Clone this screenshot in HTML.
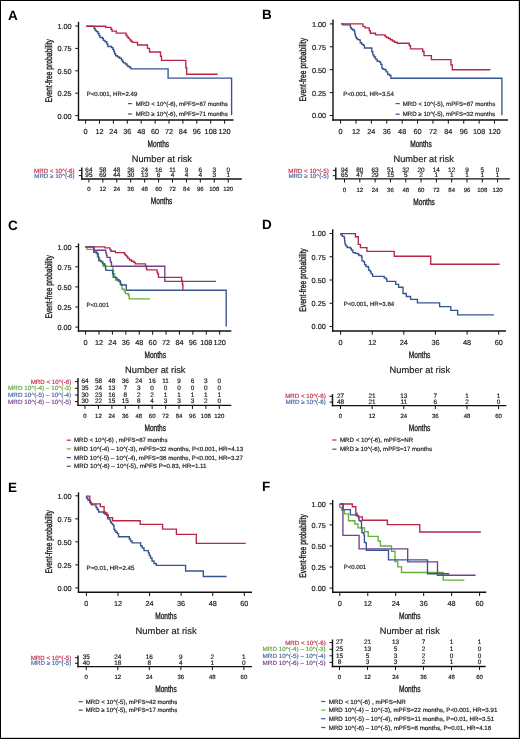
<!DOCTYPE html>
<html><head><meta charset="utf-8"><style>
html,body{margin:0;padding:0;background:#fff;}
body{width:520px;height:739px;overflow:hidden;}
svg{display:block;will-change:transform;}
svg text{font-family:"Liberation Sans", sans-serif;text-rendering:geometricPrecision;}
</style></head><body>
<svg width="520" height="739" viewBox="0 0 520 739">
<rect x="0" y="0" width="520" height="739" fill="#fff"/>
<text x="7.90" y="19.50" font-size="13.5" fill="#000" font-weight="bold">A</text>
<line x1="78.50" y1="21.80" x2="78.50" y2="120.70" stroke="#111" stroke-width="1.4"/>
<line x1="77.80" y1="120.00" x2="233.50" y2="120.00" stroke="#111" stroke-width="1.4"/>
<line x1="75.30" y1="115.60" x2="78.50" y2="115.60" stroke="#111" stroke-width="1.0"/>
<text x="71.60" y="118.50" font-size="7.3" fill="#1c1c1c" stroke="#1c1c1c" stroke-width="0.18" text-anchor="end">0.00</text>
<line x1="75.30" y1="93.20" x2="78.50" y2="93.20" stroke="#111" stroke-width="1.0"/>
<text x="71.60" y="96.10" font-size="7.3" fill="#1c1c1c" stroke="#1c1c1c" stroke-width="0.18" text-anchor="end">0.25</text>
<line x1="75.30" y1="70.80" x2="78.50" y2="70.80" stroke="#111" stroke-width="1.0"/>
<text x="71.60" y="73.70" font-size="7.3" fill="#1c1c1c" stroke="#1c1c1c" stroke-width="0.18" text-anchor="end">0.50</text>
<line x1="75.30" y1="48.40" x2="78.50" y2="48.40" stroke="#111" stroke-width="1.0"/>
<text x="71.60" y="51.30" font-size="7.3" fill="#1c1c1c" stroke="#1c1c1c" stroke-width="0.18" text-anchor="end">0.75</text>
<line x1="75.30" y1="26.00" x2="78.50" y2="26.00" stroke="#111" stroke-width="1.0"/>
<text x="71.60" y="28.90" font-size="7.3" fill="#1c1c1c" stroke="#1c1c1c" stroke-width="0.18" text-anchor="end">1.00</text>
<line x1="85.60" y1="120.00" x2="85.60" y2="123.70" stroke="#111" stroke-width="1.0"/>
<text x="85.60" y="133.90" font-size="7.3" fill="#1c1c1c" stroke="#1c1c1c" stroke-width="0.18" text-anchor="middle">0</text>
<line x1="99.50" y1="120.00" x2="99.50" y2="123.70" stroke="#111" stroke-width="1.0"/>
<text x="99.50" y="133.90" font-size="7.3" fill="#1c1c1c" stroke="#1c1c1c" stroke-width="0.18" text-anchor="middle">12</text>
<line x1="113.40" y1="120.00" x2="113.40" y2="123.70" stroke="#111" stroke-width="1.0"/>
<text x="113.40" y="133.90" font-size="7.3" fill="#1c1c1c" stroke="#1c1c1c" stroke-width="0.18" text-anchor="middle">24</text>
<line x1="127.30" y1="120.00" x2="127.30" y2="123.70" stroke="#111" stroke-width="1.0"/>
<text x="127.30" y="133.90" font-size="7.3" fill="#1c1c1c" stroke="#1c1c1c" stroke-width="0.18" text-anchor="middle">36</text>
<line x1="141.20" y1="120.00" x2="141.20" y2="123.70" stroke="#111" stroke-width="1.0"/>
<text x="141.20" y="133.90" font-size="7.3" fill="#1c1c1c" stroke="#1c1c1c" stroke-width="0.18" text-anchor="middle">48</text>
<line x1="155.10" y1="120.00" x2="155.10" y2="123.70" stroke="#111" stroke-width="1.0"/>
<text x="155.10" y="133.90" font-size="7.3" fill="#1c1c1c" stroke="#1c1c1c" stroke-width="0.18" text-anchor="middle">60</text>
<line x1="169.00" y1="120.00" x2="169.00" y2="123.70" stroke="#111" stroke-width="1.0"/>
<text x="169.00" y="133.90" font-size="7.3" fill="#1c1c1c" stroke="#1c1c1c" stroke-width="0.18" text-anchor="middle">72</text>
<line x1="182.90" y1="120.00" x2="182.90" y2="123.70" stroke="#111" stroke-width="1.0"/>
<text x="182.90" y="133.90" font-size="7.3" fill="#1c1c1c" stroke="#1c1c1c" stroke-width="0.18" text-anchor="middle">84</text>
<line x1="196.80" y1="120.00" x2="196.80" y2="123.70" stroke="#111" stroke-width="1.0"/>
<text x="196.80" y="133.90" font-size="7.3" fill="#1c1c1c" stroke="#1c1c1c" stroke-width="0.18" text-anchor="middle">96</text>
<line x1="210.70" y1="120.00" x2="210.70" y2="123.70" stroke="#111" stroke-width="1.0"/>
<text x="210.70" y="133.90" font-size="7.3" fill="#1c1c1c" stroke="#1c1c1c" stroke-width="0.18" text-anchor="middle">108</text>
<line x1="224.60" y1="120.00" x2="224.60" y2="123.70" stroke="#111" stroke-width="1.0"/>
<text x="224.60" y="133.90" font-size="7.3" fill="#1c1c1c" stroke="#1c1c1c" stroke-width="0.18" text-anchor="middle">120</text>
<text x="158.30" y="146.90" font-size="9.3" fill="#1c1c1c" stroke="#1c1c1c" stroke-width="0.35" text-anchor="middle" textLength="21.60" lengthAdjust="spacingAndGlyphs">Months</text>
<text x="0" y="0" font-size="9.6" fill="#1c1c1c" stroke="#1c1c1c" stroke-width="0.35" text-anchor="middle" textLength="63.4" lengthAdjust="spacingAndGlyphs" transform="translate(51.60,70.80) rotate(-90)">Event-free probability</text>
<path d="M86.30,26.20H94.10V28.50H95.20V30.50H96.50V31.60H98.00V33.50H99.00V35.50H100.00V37.50H102.50V38.50H103.30V40.30H105.00V41.70H106.80V44.00H107.80V46.50H111.40V47.50H112.90V49.50H113.80V51.50H114.60V53.70H115.60V55.70H117.50V57.00H119.60V58.20H121.50V60.00H122.50V61.50H123.50V62.90H125.40V64.00H127.00V65.50H128.00V66.50H129.70V67.50H130.90V68.80H168.10V78.10H231.60V115.30H231.60" fill="none" stroke="#36558f" stroke-width="1.35" stroke-linejoin="miter" stroke-linecap="butt"/>
<path d="M86.30,26.20H105.70V27.30H111.00V29.20H112.00V31.10H116.30V33.10H125.90V35.00H127.00V36.90H128.30V38.30H129.70V39.80H131.00V41.20H132.40V42.40H137.50V45.00H147.50V48.30H149.50V52.00H160.50V56.20H161.50V60.30H185.80V67.70H186.70V74.20H217.70" fill="none" stroke="#b82647" stroke-width="1.35" stroke-linejoin="miter" stroke-linecap="butt"/>
<text x="86.70" y="96.30" font-size="6.1" fill="#1c1c1c" stroke="#1c1c1c" stroke-width="0.18" textLength="50.60" lengthAdjust="spacingAndGlyphs">P&lt;0.001, HR=2.49</text>
<line x1="127.90" y1="103.60" x2="132.10" y2="103.60" stroke="#b82647" stroke-width="1.2"/>
<text x="135.80" y="105.70" font-size="6.1" fill="#1c1c1c" stroke="#1c1c1c" stroke-width="0.18" textLength="92.00" lengthAdjust="spacingAndGlyphs">MRD &lt; 10^(-6), mPFS=87 months</text>
<line x1="127.90" y1="114.00" x2="132.10" y2="114.00" stroke="#36558f" stroke-width="1.2"/>
<text x="135.80" y="116.10" font-size="6.1" fill="#1c1c1c" stroke="#1c1c1c" stroke-width="0.18" textLength="92.00" lengthAdjust="spacingAndGlyphs">MRD ≥ 10^(-6), mPFS=71 months</text>
<text x="131.70" y="162.00" font-size="9.2" fill="#1c1c1c" stroke="#1c1c1c" stroke-width="0.18" textLength="60.30" lengthAdjust="spacingAndGlyphs">Number at risk</text>
<line x1="81.80" y1="167.50" x2="81.80" y2="179.70" stroke="#111" stroke-width="1.4"/>
<line x1="81.10" y1="179.00" x2="241.80" y2="179.00" stroke="#111" stroke-width="1.4"/>
<line x1="78.80" y1="170.40" x2="81.80" y2="170.40" stroke="#111" stroke-width="1.0"/>
<text x="74.60" y="172.50" font-size="6.2" fill="#c0304c" stroke="#c0304c" stroke-width="0.18" text-anchor="end">MRD &lt; 10^(-6)</text>
<text x="88.90" y="172.15" font-size="6.4" fill="#1c1c1c" stroke="#1c1c1c" stroke-width="0.18" text-anchor="middle">64</text>
<text x="102.83" y="172.15" font-size="6.4" fill="#1c1c1c" stroke="#1c1c1c" stroke-width="0.18" text-anchor="middle">58</text>
<text x="116.76" y="172.15" font-size="6.4" fill="#1c1c1c" stroke="#1c1c1c" stroke-width="0.18" text-anchor="middle">48</text>
<text x="130.69" y="172.15" font-size="6.4" fill="#1c1c1c" stroke="#1c1c1c" stroke-width="0.18" text-anchor="middle">36</text>
<text x="144.62" y="172.15" font-size="6.4" fill="#1c1c1c" stroke="#1c1c1c" stroke-width="0.18" text-anchor="middle">24</text>
<text x="158.55" y="172.15" font-size="6.4" fill="#1c1c1c" stroke="#1c1c1c" stroke-width="0.18" text-anchor="middle">16</text>
<text x="172.48" y="172.15" font-size="6.4" fill="#1c1c1c" stroke="#1c1c1c" stroke-width="0.18" text-anchor="middle">11</text>
<text x="186.41" y="172.15" font-size="6.4" fill="#1c1c1c" stroke="#1c1c1c" stroke-width="0.18" text-anchor="middle">9</text>
<text x="200.34" y="172.15" font-size="6.4" fill="#1c1c1c" stroke="#1c1c1c" stroke-width="0.18" text-anchor="middle">6</text>
<text x="214.27" y="172.15" font-size="6.4" fill="#1c1c1c" stroke="#1c1c1c" stroke-width="0.18" text-anchor="middle">3</text>
<text x="228.20" y="172.15" font-size="6.4" fill="#1c1c1c" stroke="#1c1c1c" stroke-width="0.18" text-anchor="middle">0</text>
<line x1="78.80" y1="175.60" x2="81.80" y2="175.60" stroke="#111" stroke-width="1.0"/>
<text x="74.60" y="177.70" font-size="6.2" fill="#4a66a2" stroke="#4a66a2" stroke-width="0.18" text-anchor="end">MRD ≥ 10^(-6)</text>
<text x="88.90" y="177.35" font-size="6.4" fill="#1c1c1c" stroke="#1c1c1c" stroke-width="0.18" text-anchor="middle">95</text>
<text x="102.83" y="177.35" font-size="6.4" fill="#1c1c1c" stroke="#1c1c1c" stroke-width="0.18" text-anchor="middle">69</text>
<text x="116.76" y="177.35" font-size="6.4" fill="#1c1c1c" stroke="#1c1c1c" stroke-width="0.18" text-anchor="middle">44</text>
<text x="130.69" y="177.35" font-size="6.4" fill="#1c1c1c" stroke="#1c1c1c" stroke-width="0.18" text-anchor="middle">30</text>
<text x="144.62" y="177.35" font-size="6.4" fill="#1c1c1c" stroke="#1c1c1c" stroke-width="0.18" text-anchor="middle">13</text>
<text x="158.55" y="177.35" font-size="6.4" fill="#1c1c1c" stroke="#1c1c1c" stroke-width="0.18" text-anchor="middle">6</text>
<text x="172.48" y="177.35" font-size="6.4" fill="#1c1c1c" stroke="#1c1c1c" stroke-width="0.18" text-anchor="middle">4</text>
<text x="186.41" y="177.35" font-size="6.4" fill="#1c1c1c" stroke="#1c1c1c" stroke-width="0.18" text-anchor="middle">4</text>
<text x="200.34" y="177.35" font-size="6.4" fill="#1c1c1c" stroke="#1c1c1c" stroke-width="0.18" text-anchor="middle">4</text>
<text x="214.27" y="177.35" font-size="6.4" fill="#1c1c1c" stroke="#1c1c1c" stroke-width="0.18" text-anchor="middle">3</text>
<text x="228.20" y="177.35" font-size="6.4" fill="#1c1c1c" stroke="#1c1c1c" stroke-width="0.18" text-anchor="middle">1</text>
<line x1="88.90" y1="179.00" x2="88.90" y2="182.50" stroke="#111" stroke-width="1.0"/>
<text x="88.90" y="191.40" font-size="6.0" fill="#1c1c1c" stroke="#1c1c1c" stroke-width="0.18" text-anchor="middle">0</text>
<line x1="102.83" y1="179.00" x2="102.83" y2="182.50" stroke="#111" stroke-width="1.0"/>
<text x="102.83" y="191.40" font-size="6.0" fill="#1c1c1c" stroke="#1c1c1c" stroke-width="0.18" text-anchor="middle">12</text>
<line x1="116.76" y1="179.00" x2="116.76" y2="182.50" stroke="#111" stroke-width="1.0"/>
<text x="116.76" y="191.40" font-size="6.0" fill="#1c1c1c" stroke="#1c1c1c" stroke-width="0.18" text-anchor="middle">24</text>
<line x1="130.69" y1="179.00" x2="130.69" y2="182.50" stroke="#111" stroke-width="1.0"/>
<text x="130.69" y="191.40" font-size="6.0" fill="#1c1c1c" stroke="#1c1c1c" stroke-width="0.18" text-anchor="middle">36</text>
<line x1="144.62" y1="179.00" x2="144.62" y2="182.50" stroke="#111" stroke-width="1.0"/>
<text x="144.62" y="191.40" font-size="6.0" fill="#1c1c1c" stroke="#1c1c1c" stroke-width="0.18" text-anchor="middle">48</text>
<line x1="158.55" y1="179.00" x2="158.55" y2="182.50" stroke="#111" stroke-width="1.0"/>
<text x="158.55" y="191.40" font-size="6.0" fill="#1c1c1c" stroke="#1c1c1c" stroke-width="0.18" text-anchor="middle">60</text>
<line x1="172.48" y1="179.00" x2="172.48" y2="182.50" stroke="#111" stroke-width="1.0"/>
<text x="172.48" y="191.40" font-size="6.0" fill="#1c1c1c" stroke="#1c1c1c" stroke-width="0.18" text-anchor="middle">72</text>
<line x1="186.41" y1="179.00" x2="186.41" y2="182.50" stroke="#111" stroke-width="1.0"/>
<text x="186.41" y="191.40" font-size="6.0" fill="#1c1c1c" stroke="#1c1c1c" stroke-width="0.18" text-anchor="middle">84</text>
<line x1="200.34" y1="179.00" x2="200.34" y2="182.50" stroke="#111" stroke-width="1.0"/>
<text x="200.34" y="191.40" font-size="6.0" fill="#1c1c1c" stroke="#1c1c1c" stroke-width="0.18" text-anchor="middle">96</text>
<line x1="214.27" y1="179.00" x2="214.27" y2="182.50" stroke="#111" stroke-width="1.0"/>
<text x="214.27" y="191.40" font-size="6.0" fill="#1c1c1c" stroke="#1c1c1c" stroke-width="0.18" text-anchor="middle">108</text>
<line x1="228.20" y1="179.00" x2="228.20" y2="182.50" stroke="#111" stroke-width="1.0"/>
<text x="228.20" y="191.40" font-size="6.0" fill="#1c1c1c" stroke="#1c1c1c" stroke-width="0.18" text-anchor="middle">120</text>
<text x="161.60" y="204.40" font-size="9.3" fill="#1c1c1c" stroke="#1c1c1c" stroke-width="0.35" text-anchor="middle" textLength="21.60" lengthAdjust="spacingAndGlyphs">Months</text>
<text x="262.00" y="19.30" font-size="13.5" fill="#000" font-weight="bold">B</text>
<line x1="333.00" y1="19.60" x2="333.00" y2="120.70" stroke="#111" stroke-width="1.4"/>
<line x1="332.30" y1="120.00" x2="508.00" y2="120.00" stroke="#111" stroke-width="1.4"/>
<line x1="329.80" y1="115.50" x2="333.00" y2="115.50" stroke="#111" stroke-width="1.0"/>
<text x="326.10" y="118.40" font-size="7.3" fill="#1c1c1c" stroke="#1c1c1c" stroke-width="0.18" text-anchor="end">0.00</text>
<line x1="329.80" y1="92.60" x2="333.00" y2="92.60" stroke="#111" stroke-width="1.0"/>
<text x="326.10" y="95.50" font-size="7.3" fill="#1c1c1c" stroke="#1c1c1c" stroke-width="0.18" text-anchor="end">0.25</text>
<line x1="329.80" y1="69.70" x2="333.00" y2="69.70" stroke="#111" stroke-width="1.0"/>
<text x="326.10" y="72.60" font-size="7.3" fill="#1c1c1c" stroke="#1c1c1c" stroke-width="0.18" text-anchor="end">0.50</text>
<line x1="329.80" y1="46.80" x2="333.00" y2="46.80" stroke="#111" stroke-width="1.0"/>
<text x="326.10" y="49.70" font-size="7.3" fill="#1c1c1c" stroke="#1c1c1c" stroke-width="0.18" text-anchor="end">0.75</text>
<line x1="329.80" y1="23.90" x2="333.00" y2="23.90" stroke="#111" stroke-width="1.0"/>
<text x="326.10" y="26.80" font-size="7.3" fill="#1c1c1c" stroke="#1c1c1c" stroke-width="0.18" text-anchor="end">1.00</text>
<line x1="340.60" y1="120.00" x2="340.60" y2="123.70" stroke="#111" stroke-width="1.0"/>
<text x="340.60" y="134.00" font-size="7.3" fill="#1c1c1c" stroke="#1c1c1c" stroke-width="0.18" text-anchor="middle">0</text>
<line x1="355.99" y1="120.00" x2="355.99" y2="123.70" stroke="#111" stroke-width="1.0"/>
<text x="355.99" y="134.00" font-size="7.3" fill="#1c1c1c" stroke="#1c1c1c" stroke-width="0.18" text-anchor="middle">12</text>
<line x1="371.38" y1="120.00" x2="371.38" y2="123.70" stroke="#111" stroke-width="1.0"/>
<text x="371.38" y="134.00" font-size="7.3" fill="#1c1c1c" stroke="#1c1c1c" stroke-width="0.18" text-anchor="middle">24</text>
<line x1="386.77" y1="120.00" x2="386.77" y2="123.70" stroke="#111" stroke-width="1.0"/>
<text x="386.77" y="134.00" font-size="7.3" fill="#1c1c1c" stroke="#1c1c1c" stroke-width="0.18" text-anchor="middle">36</text>
<line x1="402.16" y1="120.00" x2="402.16" y2="123.70" stroke="#111" stroke-width="1.0"/>
<text x="402.16" y="134.00" font-size="7.3" fill="#1c1c1c" stroke="#1c1c1c" stroke-width="0.18" text-anchor="middle">48</text>
<line x1="417.55" y1="120.00" x2="417.55" y2="123.70" stroke="#111" stroke-width="1.0"/>
<text x="417.55" y="134.00" font-size="7.3" fill="#1c1c1c" stroke="#1c1c1c" stroke-width="0.18" text-anchor="middle">60</text>
<line x1="432.94" y1="120.00" x2="432.94" y2="123.70" stroke="#111" stroke-width="1.0"/>
<text x="432.94" y="134.00" font-size="7.3" fill="#1c1c1c" stroke="#1c1c1c" stroke-width="0.18" text-anchor="middle">72</text>
<line x1="448.33" y1="120.00" x2="448.33" y2="123.70" stroke="#111" stroke-width="1.0"/>
<text x="448.33" y="134.00" font-size="7.3" fill="#1c1c1c" stroke="#1c1c1c" stroke-width="0.18" text-anchor="middle">84</text>
<line x1="463.72" y1="120.00" x2="463.72" y2="123.70" stroke="#111" stroke-width="1.0"/>
<text x="463.72" y="134.00" font-size="7.3" fill="#1c1c1c" stroke="#1c1c1c" stroke-width="0.18" text-anchor="middle">96</text>
<line x1="479.11" y1="120.00" x2="479.11" y2="123.70" stroke="#111" stroke-width="1.0"/>
<text x="479.11" y="134.00" font-size="7.3" fill="#1c1c1c" stroke="#1c1c1c" stroke-width="0.18" text-anchor="middle">108</text>
<line x1="494.50" y1="120.00" x2="494.50" y2="123.70" stroke="#111" stroke-width="1.0"/>
<text x="494.50" y="134.00" font-size="7.3" fill="#1c1c1c" stroke="#1c1c1c" stroke-width="0.18" text-anchor="middle">120</text>
<text x="421.00" y="146.60" font-size="9.3" fill="#1c1c1c" stroke="#1c1c1c" stroke-width="0.35" text-anchor="middle" textLength="21.60" lengthAdjust="spacingAndGlyphs">Months</text>
<text x="0" y="0" font-size="9.6" fill="#1c1c1c" stroke="#1c1c1c" stroke-width="0.35" text-anchor="middle" textLength="63.4" lengthAdjust="spacingAndGlyphs" transform="translate(306.10,69.70) rotate(-90)">Event-free probability</text>
<path d="M341.20,23.90H342.80V24.80H350.40V27.40H351.20V29.00H352.80V30.00H354.40V31.60H354.90V34.30H355.50V36.90H356.50V38.50H357.60V39.60H359.70V40.10H360.20V42.70H361.80V44.30H363.40V45.40H364.40V48.00H371.80V51.70H372.90V54.90H374.00V57.00H375.50V59.10H377.10V61.20H379.80V62.30H380.80V64.40H381.90V68.10H383.00V69.20H385.10V69.70H386.10V71.80H387.70V74.50H389.80V75.50H390.90V78.20H501.90V115.20H501.90" fill="none" stroke="#36558f" stroke-width="1.35" stroke-linejoin="miter" stroke-linecap="butt"/>
<path d="M341.20,23.90H362.90V26.30H365.00V27.90H369.20V30.60H370.30V33.20H375.50V34.80H385.10V36.40H386.30V37.50H388.40V38.50H390.40V39.70H392.40V41.00H394.50V42.20H397.10V43.20H409.20V45.50H410.50V48.80H422.70V51.50H424.00V55.60H431.40V59.60H451.00V65.00H452.30V69.70H490.40" fill="none" stroke="#b82647" stroke-width="1.35" stroke-linejoin="miter" stroke-linecap="butt"/>
<text x="343.20" y="96.30" font-size="6.1" fill="#1c1c1c" stroke="#1c1c1c" stroke-width="0.18" textLength="50.60" lengthAdjust="spacingAndGlyphs">P&lt;0.001, HR=3.54</text>
<line x1="395.50" y1="103.60" x2="399.70" y2="103.60" stroke="#b82647" stroke-width="1.2"/>
<text x="402.70" y="105.70" font-size="6.1" fill="#1c1c1c" stroke="#1c1c1c" stroke-width="0.18" textLength="92.50" lengthAdjust="spacingAndGlyphs">MRD &lt; 10^(-5), mPFS=87 months</text>
<line x1="395.50" y1="114.20" x2="399.70" y2="114.20" stroke="#36558f" stroke-width="1.2"/>
<text x="402.70" y="116.30" font-size="6.1" fill="#1c1c1c" stroke="#1c1c1c" stroke-width="0.18" textLength="92.50" lengthAdjust="spacingAndGlyphs">MRD ≥ 10^(-5), mPFS=32 months</text>
<text x="393.50" y="162.30" font-size="9.2" fill="#1c1c1c" stroke="#1c1c1c" stroke-width="0.18" textLength="60.30" lengthAdjust="spacingAndGlyphs">Number at risk</text>
<line x1="335.80" y1="167.50" x2="335.80" y2="179.60" stroke="#111" stroke-width="1.4"/>
<line x1="335.10" y1="178.90" x2="509.80" y2="178.90" stroke="#111" stroke-width="1.4"/>
<line x1="332.80" y1="170.40" x2="335.80" y2="170.40" stroke="#111" stroke-width="1.0"/>
<text x="328.80" y="172.50" font-size="6.2" fill="#c0304c" stroke="#c0304c" stroke-width="0.18" text-anchor="end">MRD &lt; 10^(-5)</text>
<text x="344.50" y="172.15" font-size="6.4" fill="#1c1c1c" stroke="#1c1c1c" stroke-width="0.18" text-anchor="middle">94</text>
<text x="359.81" y="172.15" font-size="6.4" fill="#1c1c1c" stroke="#1c1c1c" stroke-width="0.18" text-anchor="middle">80</text>
<text x="375.12" y="172.15" font-size="6.4" fill="#1c1c1c" stroke="#1c1c1c" stroke-width="0.18" text-anchor="middle">63</text>
<text x="390.43" y="172.15" font-size="6.4" fill="#1c1c1c" stroke="#1c1c1c" stroke-width="0.18" text-anchor="middle">51</text>
<text x="405.74" y="172.15" font-size="6.4" fill="#1c1c1c" stroke="#1c1c1c" stroke-width="0.18" text-anchor="middle">32</text>
<text x="421.05" y="172.15" font-size="6.4" fill="#1c1c1c" stroke="#1c1c1c" stroke-width="0.18" text-anchor="middle">20</text>
<text x="436.36" y="172.15" font-size="6.4" fill="#1c1c1c" stroke="#1c1c1c" stroke-width="0.18" text-anchor="middle">14</text>
<text x="451.67" y="172.15" font-size="6.4" fill="#1c1c1c" stroke="#1c1c1c" stroke-width="0.18" text-anchor="middle">12</text>
<text x="466.98" y="172.15" font-size="6.4" fill="#1c1c1c" stroke="#1c1c1c" stroke-width="0.18" text-anchor="middle">9</text>
<text x="482.29" y="172.15" font-size="6.4" fill="#1c1c1c" stroke="#1c1c1c" stroke-width="0.18" text-anchor="middle">5</text>
<text x="497.60" y="172.15" font-size="6.4" fill="#1c1c1c" stroke="#1c1c1c" stroke-width="0.18" text-anchor="middle">0</text>
<line x1="332.80" y1="175.70" x2="335.80" y2="175.70" stroke="#111" stroke-width="1.0"/>
<text x="328.80" y="177.80" font-size="6.2" fill="#4a66a2" stroke="#4a66a2" stroke-width="0.18" text-anchor="end">MRD ≥ 10^(-5)</text>
<text x="344.50" y="177.45" font-size="6.4" fill="#1c1c1c" stroke="#1c1c1c" stroke-width="0.18" text-anchor="middle">65</text>
<text x="359.81" y="177.45" font-size="6.4" fill="#1c1c1c" stroke="#1c1c1c" stroke-width="0.18" text-anchor="middle">47</text>
<text x="375.12" y="177.45" font-size="6.4" fill="#1c1c1c" stroke="#1c1c1c" stroke-width="0.18" text-anchor="middle">29</text>
<text x="390.43" y="177.45" font-size="6.4" fill="#1c1c1c" stroke="#1c1c1c" stroke-width="0.18" text-anchor="middle">15</text>
<text x="405.74" y="177.45" font-size="6.4" fill="#1c1c1c" stroke="#1c1c1c" stroke-width="0.18" text-anchor="middle">5</text>
<text x="421.05" y="177.45" font-size="6.4" fill="#1c1c1c" stroke="#1c1c1c" stroke-width="0.18" text-anchor="middle">2</text>
<text x="436.36" y="177.45" font-size="6.4" fill="#1c1c1c" stroke="#1c1c1c" stroke-width="0.18" text-anchor="middle">1</text>
<text x="451.67" y="177.45" font-size="6.4" fill="#1c1c1c" stroke="#1c1c1c" stroke-width="0.18" text-anchor="middle">1</text>
<text x="466.98" y="177.45" font-size="6.4" fill="#1c1c1c" stroke="#1c1c1c" stroke-width="0.18" text-anchor="middle">1</text>
<text x="482.29" y="177.45" font-size="6.4" fill="#1c1c1c" stroke="#1c1c1c" stroke-width="0.18" text-anchor="middle">1</text>
<text x="497.60" y="177.45" font-size="6.4" fill="#1c1c1c" stroke="#1c1c1c" stroke-width="0.18" text-anchor="middle">1</text>
<line x1="344.50" y1="178.90" x2="344.50" y2="182.40" stroke="#111" stroke-width="1.0"/>
<text x="344.50" y="191.50" font-size="6.0" fill="#1c1c1c" stroke="#1c1c1c" stroke-width="0.18" text-anchor="middle">0</text>
<line x1="359.81" y1="178.90" x2="359.81" y2="182.40" stroke="#111" stroke-width="1.0"/>
<text x="359.81" y="191.50" font-size="6.0" fill="#1c1c1c" stroke="#1c1c1c" stroke-width="0.18" text-anchor="middle">12</text>
<line x1="375.12" y1="178.90" x2="375.12" y2="182.40" stroke="#111" stroke-width="1.0"/>
<text x="375.12" y="191.50" font-size="6.0" fill="#1c1c1c" stroke="#1c1c1c" stroke-width="0.18" text-anchor="middle">24</text>
<line x1="390.43" y1="178.90" x2="390.43" y2="182.40" stroke="#111" stroke-width="1.0"/>
<text x="390.43" y="191.50" font-size="6.0" fill="#1c1c1c" stroke="#1c1c1c" stroke-width="0.18" text-anchor="middle">36</text>
<line x1="405.74" y1="178.90" x2="405.74" y2="182.40" stroke="#111" stroke-width="1.0"/>
<text x="405.74" y="191.50" font-size="6.0" fill="#1c1c1c" stroke="#1c1c1c" stroke-width="0.18" text-anchor="middle">48</text>
<line x1="421.05" y1="178.90" x2="421.05" y2="182.40" stroke="#111" stroke-width="1.0"/>
<text x="421.05" y="191.50" font-size="6.0" fill="#1c1c1c" stroke="#1c1c1c" stroke-width="0.18" text-anchor="middle">60</text>
<line x1="436.36" y1="178.90" x2="436.36" y2="182.40" stroke="#111" stroke-width="1.0"/>
<text x="436.36" y="191.50" font-size="6.0" fill="#1c1c1c" stroke="#1c1c1c" stroke-width="0.18" text-anchor="middle">72</text>
<line x1="451.67" y1="178.90" x2="451.67" y2="182.40" stroke="#111" stroke-width="1.0"/>
<text x="451.67" y="191.50" font-size="6.0" fill="#1c1c1c" stroke="#1c1c1c" stroke-width="0.18" text-anchor="middle">84</text>
<line x1="466.98" y1="178.90" x2="466.98" y2="182.40" stroke="#111" stroke-width="1.0"/>
<text x="466.98" y="191.50" font-size="6.0" fill="#1c1c1c" stroke="#1c1c1c" stroke-width="0.18" text-anchor="middle">96</text>
<line x1="482.29" y1="178.90" x2="482.29" y2="182.40" stroke="#111" stroke-width="1.0"/>
<text x="482.29" y="191.50" font-size="6.0" fill="#1c1c1c" stroke="#1c1c1c" stroke-width="0.18" text-anchor="middle">108</text>
<line x1="497.60" y1="178.90" x2="497.60" y2="182.40" stroke="#111" stroke-width="1.0"/>
<text x="497.60" y="191.50" font-size="6.0" fill="#1c1c1c" stroke="#1c1c1c" stroke-width="0.18" text-anchor="middle">120</text>
<text x="424.10" y="204.50" font-size="9.3" fill="#1c1c1c" stroke="#1c1c1c" stroke-width="0.35" text-anchor="middle" textLength="21.60" lengthAdjust="spacingAndGlyphs">Months</text>
<text x="7.90" y="229.50" font-size="13.5" fill="#000" font-weight="bold">C</text>
<line x1="78.50" y1="243.50" x2="78.50" y2="331.70" stroke="#111" stroke-width="1.4"/>
<line x1="77.80" y1="331.00" x2="231.30" y2="331.00" stroke="#111" stroke-width="1.4"/>
<line x1="75.30" y1="327.10" x2="78.50" y2="327.10" stroke="#111" stroke-width="1.0"/>
<text x="71.60" y="330.00" font-size="7.3" fill="#1c1c1c" stroke="#1c1c1c" stroke-width="0.18" text-anchor="end">0.00</text>
<line x1="75.30" y1="307.00" x2="78.50" y2="307.00" stroke="#111" stroke-width="1.0"/>
<text x="71.60" y="309.90" font-size="7.3" fill="#1c1c1c" stroke="#1c1c1c" stroke-width="0.18" text-anchor="end">0.25</text>
<line x1="75.30" y1="286.90" x2="78.50" y2="286.90" stroke="#111" stroke-width="1.0"/>
<text x="71.60" y="289.80" font-size="7.3" fill="#1c1c1c" stroke="#1c1c1c" stroke-width="0.18" text-anchor="end">0.50</text>
<line x1="75.30" y1="266.80" x2="78.50" y2="266.80" stroke="#111" stroke-width="1.0"/>
<text x="71.60" y="269.70" font-size="7.3" fill="#1c1c1c" stroke="#1c1c1c" stroke-width="0.18" text-anchor="end">0.75</text>
<line x1="75.30" y1="246.70" x2="78.50" y2="246.70" stroke="#111" stroke-width="1.0"/>
<text x="71.60" y="249.60" font-size="7.3" fill="#1c1c1c" stroke="#1c1c1c" stroke-width="0.18" text-anchor="end">1.00</text>
<line x1="85.60" y1="331.00" x2="85.60" y2="334.70" stroke="#111" stroke-width="1.0"/>
<text x="85.60" y="344.70" font-size="7.3" fill="#1c1c1c" stroke="#1c1c1c" stroke-width="0.18" text-anchor="middle">0</text>
<line x1="99.01" y1="331.00" x2="99.01" y2="334.70" stroke="#111" stroke-width="1.0"/>
<text x="99.01" y="344.70" font-size="7.3" fill="#1c1c1c" stroke="#1c1c1c" stroke-width="0.18" text-anchor="middle">12</text>
<line x1="112.42" y1="331.00" x2="112.42" y2="334.70" stroke="#111" stroke-width="1.0"/>
<text x="112.42" y="344.70" font-size="7.3" fill="#1c1c1c" stroke="#1c1c1c" stroke-width="0.18" text-anchor="middle">24</text>
<line x1="125.83" y1="331.00" x2="125.83" y2="334.70" stroke="#111" stroke-width="1.0"/>
<text x="125.83" y="344.70" font-size="7.3" fill="#1c1c1c" stroke="#1c1c1c" stroke-width="0.18" text-anchor="middle">36</text>
<line x1="139.24" y1="331.00" x2="139.24" y2="334.70" stroke="#111" stroke-width="1.0"/>
<text x="139.24" y="344.70" font-size="7.3" fill="#1c1c1c" stroke="#1c1c1c" stroke-width="0.18" text-anchor="middle">48</text>
<line x1="152.65" y1="331.00" x2="152.65" y2="334.70" stroke="#111" stroke-width="1.0"/>
<text x="152.65" y="344.70" font-size="7.3" fill="#1c1c1c" stroke="#1c1c1c" stroke-width="0.18" text-anchor="middle">60</text>
<line x1="166.06" y1="331.00" x2="166.06" y2="334.70" stroke="#111" stroke-width="1.0"/>
<text x="166.06" y="344.70" font-size="7.3" fill="#1c1c1c" stroke="#1c1c1c" stroke-width="0.18" text-anchor="middle">72</text>
<line x1="179.47" y1="331.00" x2="179.47" y2="334.70" stroke="#111" stroke-width="1.0"/>
<text x="179.47" y="344.70" font-size="7.3" fill="#1c1c1c" stroke="#1c1c1c" stroke-width="0.18" text-anchor="middle">84</text>
<line x1="192.88" y1="331.00" x2="192.88" y2="334.70" stroke="#111" stroke-width="1.0"/>
<text x="192.88" y="344.70" font-size="7.3" fill="#1c1c1c" stroke="#1c1c1c" stroke-width="0.18" text-anchor="middle">96</text>
<line x1="206.29" y1="331.00" x2="206.29" y2="334.70" stroke="#111" stroke-width="1.0"/>
<text x="206.29" y="344.70" font-size="7.3" fill="#1c1c1c" stroke="#1c1c1c" stroke-width="0.18" text-anchor="middle">108</text>
<line x1="219.70" y1="331.00" x2="219.70" y2="334.70" stroke="#111" stroke-width="1.0"/>
<text x="219.70" y="344.70" font-size="7.3" fill="#1c1c1c" stroke="#1c1c1c" stroke-width="0.18" text-anchor="middle">120</text>
<text x="155.25" y="357.80" font-size="9.3" fill="#1c1c1c" stroke="#1c1c1c" stroke-width="0.35" text-anchor="middle" textLength="21.60" lengthAdjust="spacingAndGlyphs">Months</text>
<text x="0" y="0" font-size="9.6" fill="#1c1c1c" stroke="#1c1c1c" stroke-width="0.35" text-anchor="middle" textLength="63.4" lengthAdjust="spacingAndGlyphs" transform="translate(51.60,286.90) rotate(-90)">Event-free probability</text>
<path d="M85.40,246.80H86.90V249.30H94.30V251.70H96.30V253.60H97.40V256.50H98.70V258.40H99.80V260.30H101.20V261.30H102.60V263.20H103.10V266.30H112.90V269.90H113.50V273.80H114.60V276.70H115.60V280.00H117.60V281.00H120.00V282.40H120.90V285.30H122.00V289.20H124.30V291.10H125.30V293.50H128.30V295.00H129.10V298.80H149.90" fill="none" stroke="#64b03c" stroke-width="1.35" stroke-linejoin="miter" stroke-linecap="butt"/>
<path d="M85.40,246.80H93.80V252.40H97.30V253.60H98.20V257.40H98.80V260.80H101.10V261.80H102.60V263.70H104.50V265.10H105.50V269.00H106.00V270.40H112.60V273.80H113.20V277.30H115.60V277.80H117.00V279.50H119.00V281.00H120.30V284.30H122.00V285.00H126.30V290.20H226.20V326.50H226.20" fill="none" stroke="#36558f" stroke-width="1.35" stroke-linejoin="miter" stroke-linecap="butt"/>
<path d="M85.40,246.80H104.90V247.80H110.00V249.70H111.00V251.20H115.40V252.60H124.50V254.10H125.50V255.40H126.70V256.50H127.80V258.30H129.50V260.00H131.50V261.20H133.80V262.30H135.20V263.80H145.50V265.80H146.20V268.10H146.70V269.80H157.00V272.10H157.70V273.80H158.50V277.30H181.70V280.80H182.40V284.20H182.90V289.60H183.00" fill="none" stroke="#b82647" stroke-width="1.35" stroke-linejoin="miter" stroke-linecap="butt"/>
<path d="M85.40,246.80H94.10V250.20H105.80V252.60H106.40V255.00H107.00V257.40H110.10V260.30H110.60V262.20H111.50V266.20H164.80V281.40H216.10" fill="none" stroke="#70428a" stroke-width="1.35" stroke-linejoin="miter" stroke-linecap="butt"/>
<text x="86.50" y="306.50" font-size="6.1" fill="#1c1c1c" stroke="#1c1c1c" stroke-width="0.18" textLength="22.50" lengthAdjust="spacingAndGlyphs">P&lt;0.001</text>
<line x1="66.70" y1="440.20" x2="70.90" y2="440.20" stroke="#b82647" stroke-width="1.2"/>
<text x="74.00" y="442.30" font-size="6.1" fill="#1c1c1c" stroke="#1c1c1c" stroke-width="0.18" textLength="93.50" lengthAdjust="spacingAndGlyphs">MRD &lt; 10^(-6) , mPFS=87 months</text>
<line x1="66.70" y1="448.90" x2="70.90" y2="448.90" stroke="#64b03c" stroke-width="1.2"/>
<text x="74.00" y="451.00" font-size="6.1" fill="#1c1c1c" stroke="#1c1c1c" stroke-width="0.18" textLength="169.20" lengthAdjust="spacingAndGlyphs">MRD 10^(-4) – 10^(-3), mPFS=32 months, P&lt;0.001, HR=4.13</text>
<line x1="66.70" y1="457.60" x2="70.90" y2="457.60" stroke="#36558f" stroke-width="1.2"/>
<text x="74.00" y="459.70" font-size="6.1" fill="#1c1c1c" stroke="#1c1c1c" stroke-width="0.18" textLength="169.00" lengthAdjust="spacingAndGlyphs">MRD 10^(-5) – 10^(-4), mPFS=36 months, P&lt;0.001, HR=3.27</text>
<line x1="66.70" y1="466.30" x2="70.90" y2="466.30" stroke="#70428a" stroke-width="1.2"/>
<text x="74.00" y="468.40" font-size="6.1" fill="#1c1c1c" stroke="#1c1c1c" stroke-width="0.18" textLength="132.60" lengthAdjust="spacingAndGlyphs">MRD 10^(-6) – 10^(-5), mPFS P=0.83, HR=1.11</text>
<text x="125.00" y="372.80" font-size="9.2" fill="#1c1c1c" stroke="#1c1c1c" stroke-width="0.18" textLength="60.50" lengthAdjust="spacingAndGlyphs">Number at risk</text>
<line x1="78.00" y1="378.00" x2="78.00" y2="406.10" stroke="#111" stroke-width="1.4"/>
<line x1="77.30" y1="405.40" x2="231.30" y2="405.40" stroke="#111" stroke-width="1.4"/>
<line x1="75.00" y1="381.60" x2="78.00" y2="381.60" stroke="#111" stroke-width="1.0"/>
<text x="71.25" y="383.70" font-size="6.2" fill="#c0304c" stroke="#c0304c" stroke-width="0.18" text-anchor="end">MRD &lt; 10^(-6)</text>
<text x="85.00" y="383.35" font-size="6.4" fill="#1c1c1c" stroke="#1c1c1c" stroke-width="0.18" text-anchor="middle">64</text>
<text x="98.43" y="383.35" font-size="6.4" fill="#1c1c1c" stroke="#1c1c1c" stroke-width="0.18" text-anchor="middle">58</text>
<text x="111.86" y="383.35" font-size="6.4" fill="#1c1c1c" stroke="#1c1c1c" stroke-width="0.18" text-anchor="middle">48</text>
<text x="125.29" y="383.35" font-size="6.4" fill="#1c1c1c" stroke="#1c1c1c" stroke-width="0.18" text-anchor="middle">36</text>
<text x="138.72" y="383.35" font-size="6.4" fill="#1c1c1c" stroke="#1c1c1c" stroke-width="0.18" text-anchor="middle">24</text>
<text x="152.15" y="383.35" font-size="6.4" fill="#1c1c1c" stroke="#1c1c1c" stroke-width="0.18" text-anchor="middle">16</text>
<text x="165.58" y="383.35" font-size="6.4" fill="#1c1c1c" stroke="#1c1c1c" stroke-width="0.18" text-anchor="middle">11</text>
<text x="179.01" y="383.35" font-size="6.4" fill="#1c1c1c" stroke="#1c1c1c" stroke-width="0.18" text-anchor="middle">9</text>
<text x="192.44" y="383.35" font-size="6.4" fill="#1c1c1c" stroke="#1c1c1c" stroke-width="0.18" text-anchor="middle">6</text>
<text x="205.87" y="383.35" font-size="6.4" fill="#1c1c1c" stroke="#1c1c1c" stroke-width="0.18" text-anchor="middle">3</text>
<text x="219.30" y="383.35" font-size="6.4" fill="#1c1c1c" stroke="#1c1c1c" stroke-width="0.18" text-anchor="middle">0</text>
<line x1="75.00" y1="388.30" x2="78.00" y2="388.30" stroke="#111" stroke-width="1.0"/>
<text x="71.25" y="390.40" font-size="6.2" fill="#5fa83c" stroke="#5fa83c" stroke-width="0.18" text-anchor="end" textLength="63.20" lengthAdjust="spacingAndGlyphs">MRD 10^(-4) – 10^(-3)</text>
<text x="85.00" y="390.05" font-size="6.4" fill="#1c1c1c" stroke="#1c1c1c" stroke-width="0.18" text-anchor="middle">35</text>
<text x="98.43" y="390.05" font-size="6.4" fill="#1c1c1c" stroke="#1c1c1c" stroke-width="0.18" text-anchor="middle">24</text>
<text x="111.86" y="390.05" font-size="6.4" fill="#1c1c1c" stroke="#1c1c1c" stroke-width="0.18" text-anchor="middle">13</text>
<text x="125.29" y="390.05" font-size="6.4" fill="#1c1c1c" stroke="#1c1c1c" stroke-width="0.18" text-anchor="middle">7</text>
<text x="138.72" y="390.05" font-size="6.4" fill="#1c1c1c" stroke="#1c1c1c" stroke-width="0.18" text-anchor="middle">3</text>
<text x="152.15" y="390.05" font-size="6.4" fill="#1c1c1c" stroke="#1c1c1c" stroke-width="0.18" text-anchor="middle">0</text>
<text x="165.58" y="390.05" font-size="6.4" fill="#1c1c1c" stroke="#1c1c1c" stroke-width="0.18" text-anchor="middle">0</text>
<text x="179.01" y="390.05" font-size="6.4" fill="#1c1c1c" stroke="#1c1c1c" stroke-width="0.18" text-anchor="middle">0</text>
<text x="192.44" y="390.05" font-size="6.4" fill="#1c1c1c" stroke="#1c1c1c" stroke-width="0.18" text-anchor="middle">0</text>
<text x="205.87" y="390.05" font-size="6.4" fill="#1c1c1c" stroke="#1c1c1c" stroke-width="0.18" text-anchor="middle">0</text>
<text x="219.30" y="390.05" font-size="6.4" fill="#1c1c1c" stroke="#1c1c1c" stroke-width="0.18" text-anchor="middle">0</text>
<line x1="75.00" y1="395.00" x2="78.00" y2="395.00" stroke="#111" stroke-width="1.0"/>
<text x="71.25" y="397.10" font-size="6.2" fill="#4a66a2" stroke="#4a66a2" stroke-width="0.18" text-anchor="end" textLength="63.20" lengthAdjust="spacingAndGlyphs">MRD 10^(-5) – 10^(-4)</text>
<text x="85.00" y="396.75" font-size="6.4" fill="#1c1c1c" stroke="#1c1c1c" stroke-width="0.18" text-anchor="middle">30</text>
<text x="98.43" y="396.75" font-size="6.4" fill="#1c1c1c" stroke="#1c1c1c" stroke-width="0.18" text-anchor="middle">23</text>
<text x="111.86" y="396.75" font-size="6.4" fill="#1c1c1c" stroke="#1c1c1c" stroke-width="0.18" text-anchor="middle">16</text>
<text x="125.29" y="396.75" font-size="6.4" fill="#1c1c1c" stroke="#1c1c1c" stroke-width="0.18" text-anchor="middle">8</text>
<text x="138.72" y="396.75" font-size="6.4" fill="#1c1c1c" stroke="#1c1c1c" stroke-width="0.18" text-anchor="middle">2</text>
<text x="152.15" y="396.75" font-size="6.4" fill="#1c1c1c" stroke="#1c1c1c" stroke-width="0.18" text-anchor="middle">2</text>
<text x="165.58" y="396.75" font-size="6.4" fill="#1c1c1c" stroke="#1c1c1c" stroke-width="0.18" text-anchor="middle">1</text>
<text x="179.01" y="396.75" font-size="6.4" fill="#1c1c1c" stroke="#1c1c1c" stroke-width="0.18" text-anchor="middle">1</text>
<text x="192.44" y="396.75" font-size="6.4" fill="#1c1c1c" stroke="#1c1c1c" stroke-width="0.18" text-anchor="middle">1</text>
<text x="205.87" y="396.75" font-size="6.4" fill="#1c1c1c" stroke="#1c1c1c" stroke-width="0.18" text-anchor="middle">1</text>
<text x="219.30" y="396.75" font-size="6.4" fill="#1c1c1c" stroke="#1c1c1c" stroke-width="0.18" text-anchor="middle">1</text>
<line x1="75.00" y1="401.60" x2="78.00" y2="401.60" stroke="#111" stroke-width="1.0"/>
<text x="71.25" y="403.70" font-size="6.2" fill="#74488c" stroke="#74488c" stroke-width="0.18" text-anchor="end" textLength="63.20" lengthAdjust="spacingAndGlyphs">MRD 10^(-6) – 10^(-5)</text>
<text x="85.00" y="403.35" font-size="6.4" fill="#1c1c1c" stroke="#1c1c1c" stroke-width="0.18" text-anchor="middle">30</text>
<text x="98.43" y="403.35" font-size="6.4" fill="#1c1c1c" stroke="#1c1c1c" stroke-width="0.18" text-anchor="middle">22</text>
<text x="111.86" y="403.35" font-size="6.4" fill="#1c1c1c" stroke="#1c1c1c" stroke-width="0.18" text-anchor="middle">15</text>
<text x="125.29" y="403.35" font-size="6.4" fill="#1c1c1c" stroke="#1c1c1c" stroke-width="0.18" text-anchor="middle">15</text>
<text x="138.72" y="403.35" font-size="6.4" fill="#1c1c1c" stroke="#1c1c1c" stroke-width="0.18" text-anchor="middle">8</text>
<text x="152.15" y="403.35" font-size="6.4" fill="#1c1c1c" stroke="#1c1c1c" stroke-width="0.18" text-anchor="middle">4</text>
<text x="165.58" y="403.35" font-size="6.4" fill="#1c1c1c" stroke="#1c1c1c" stroke-width="0.18" text-anchor="middle">3</text>
<text x="179.01" y="403.35" font-size="6.4" fill="#1c1c1c" stroke="#1c1c1c" stroke-width="0.18" text-anchor="middle">3</text>
<text x="192.44" y="403.35" font-size="6.4" fill="#1c1c1c" stroke="#1c1c1c" stroke-width="0.18" text-anchor="middle">3</text>
<text x="205.87" y="403.35" font-size="6.4" fill="#1c1c1c" stroke="#1c1c1c" stroke-width="0.18" text-anchor="middle">2</text>
<text x="219.30" y="403.35" font-size="6.4" fill="#1c1c1c" stroke="#1c1c1c" stroke-width="0.18" text-anchor="middle">0</text>
<line x1="85.00" y1="405.40" x2="85.00" y2="408.90" stroke="#111" stroke-width="1.0"/>
<text x="85.00" y="417.90" font-size="6.0" fill="#1c1c1c" stroke="#1c1c1c" stroke-width="0.18" text-anchor="middle">0</text>
<line x1="98.43" y1="405.40" x2="98.43" y2="408.90" stroke="#111" stroke-width="1.0"/>
<text x="98.43" y="417.90" font-size="6.0" fill="#1c1c1c" stroke="#1c1c1c" stroke-width="0.18" text-anchor="middle">12</text>
<line x1="111.86" y1="405.40" x2="111.86" y2="408.90" stroke="#111" stroke-width="1.0"/>
<text x="111.86" y="417.90" font-size="6.0" fill="#1c1c1c" stroke="#1c1c1c" stroke-width="0.18" text-anchor="middle">24</text>
<line x1="125.29" y1="405.40" x2="125.29" y2="408.90" stroke="#111" stroke-width="1.0"/>
<text x="125.29" y="417.90" font-size="6.0" fill="#1c1c1c" stroke="#1c1c1c" stroke-width="0.18" text-anchor="middle">36</text>
<line x1="138.72" y1="405.40" x2="138.72" y2="408.90" stroke="#111" stroke-width="1.0"/>
<text x="138.72" y="417.90" font-size="6.0" fill="#1c1c1c" stroke="#1c1c1c" stroke-width="0.18" text-anchor="middle">48</text>
<line x1="152.15" y1="405.40" x2="152.15" y2="408.90" stroke="#111" stroke-width="1.0"/>
<text x="152.15" y="417.90" font-size="6.0" fill="#1c1c1c" stroke="#1c1c1c" stroke-width="0.18" text-anchor="middle">60</text>
<line x1="165.58" y1="405.40" x2="165.58" y2="408.90" stroke="#111" stroke-width="1.0"/>
<text x="165.58" y="417.90" font-size="6.0" fill="#1c1c1c" stroke="#1c1c1c" stroke-width="0.18" text-anchor="middle">72</text>
<line x1="179.01" y1="405.40" x2="179.01" y2="408.90" stroke="#111" stroke-width="1.0"/>
<text x="179.01" y="417.90" font-size="6.0" fill="#1c1c1c" stroke="#1c1c1c" stroke-width="0.18" text-anchor="middle">84</text>
<line x1="192.44" y1="405.40" x2="192.44" y2="408.90" stroke="#111" stroke-width="1.0"/>
<text x="192.44" y="417.90" font-size="6.0" fill="#1c1c1c" stroke="#1c1c1c" stroke-width="0.18" text-anchor="middle">96</text>
<line x1="205.87" y1="405.40" x2="205.87" y2="408.90" stroke="#111" stroke-width="1.0"/>
<text x="205.87" y="417.90" font-size="6.0" fill="#1c1c1c" stroke="#1c1c1c" stroke-width="0.18" text-anchor="middle">108</text>
<line x1="219.30" y1="405.40" x2="219.30" y2="408.90" stroke="#111" stroke-width="1.0"/>
<text x="219.30" y="417.90" font-size="6.0" fill="#1c1c1c" stroke="#1c1c1c" stroke-width="0.18" text-anchor="middle">120</text>
<text x="155.20" y="430.90" font-size="9.3" fill="#1c1c1c" stroke="#1c1c1c" stroke-width="0.35" text-anchor="middle" textLength="21.60" lengthAdjust="spacingAndGlyphs">Months</text>
<text x="262.00" y="229.30" font-size="13.5" fill="#000" font-weight="bold">D</text>
<line x1="332.70" y1="229.20" x2="332.70" y2="331.70" stroke="#111" stroke-width="1.4"/>
<line x1="332.00" y1="331.00" x2="506.00" y2="331.00" stroke="#111" stroke-width="1.4"/>
<line x1="329.50" y1="326.50" x2="332.70" y2="326.50" stroke="#111" stroke-width="1.0"/>
<text x="325.80" y="329.40" font-size="7.3" fill="#1c1c1c" stroke="#1c1c1c" stroke-width="0.18" text-anchor="end">0.00</text>
<line x1="329.50" y1="303.25" x2="332.70" y2="303.25" stroke="#111" stroke-width="1.0"/>
<text x="325.80" y="306.15" font-size="7.3" fill="#1c1c1c" stroke="#1c1c1c" stroke-width="0.18" text-anchor="end">0.25</text>
<line x1="329.50" y1="280.00" x2="332.70" y2="280.00" stroke="#111" stroke-width="1.0"/>
<text x="325.80" y="282.90" font-size="7.3" fill="#1c1c1c" stroke="#1c1c1c" stroke-width="0.18" text-anchor="end">0.50</text>
<line x1="329.50" y1="256.75" x2="332.70" y2="256.75" stroke="#111" stroke-width="1.0"/>
<text x="325.80" y="259.65" font-size="7.3" fill="#1c1c1c" stroke="#1c1c1c" stroke-width="0.18" text-anchor="end">0.75</text>
<line x1="329.50" y1="233.50" x2="332.70" y2="233.50" stroke="#111" stroke-width="1.0"/>
<text x="325.80" y="236.40" font-size="7.3" fill="#1c1c1c" stroke="#1c1c1c" stroke-width="0.18" text-anchor="end">1.00</text>
<line x1="340.60" y1="331.00" x2="340.60" y2="334.70" stroke="#111" stroke-width="1.0"/>
<text x="340.60" y="344.70" font-size="7.3" fill="#1c1c1c" stroke="#1c1c1c" stroke-width="0.18" text-anchor="middle">0</text>
<line x1="372.22" y1="331.00" x2="372.22" y2="334.70" stroke="#111" stroke-width="1.0"/>
<text x="372.22" y="344.70" font-size="7.3" fill="#1c1c1c" stroke="#1c1c1c" stroke-width="0.18" text-anchor="middle">12</text>
<line x1="403.84" y1="331.00" x2="403.84" y2="334.70" stroke="#111" stroke-width="1.0"/>
<text x="403.84" y="344.70" font-size="7.3" fill="#1c1c1c" stroke="#1c1c1c" stroke-width="0.18" text-anchor="middle">24</text>
<line x1="435.46" y1="331.00" x2="435.46" y2="334.70" stroke="#111" stroke-width="1.0"/>
<text x="435.46" y="344.70" font-size="7.3" fill="#1c1c1c" stroke="#1c1c1c" stroke-width="0.18" text-anchor="middle">36</text>
<line x1="467.08" y1="331.00" x2="467.08" y2="334.70" stroke="#111" stroke-width="1.0"/>
<text x="467.08" y="344.70" font-size="7.3" fill="#1c1c1c" stroke="#1c1c1c" stroke-width="0.18" text-anchor="middle">48</text>
<line x1="498.70" y1="331.00" x2="498.70" y2="334.70" stroke="#111" stroke-width="1.0"/>
<text x="498.70" y="344.70" font-size="7.3" fill="#1c1c1c" stroke="#1c1c1c" stroke-width="0.18" text-anchor="middle">60</text>
<text x="419.60" y="358.00" font-size="9.3" fill="#1c1c1c" stroke="#1c1c1c" stroke-width="0.35" text-anchor="middle" textLength="21.60" lengthAdjust="spacingAndGlyphs">Months</text>
<text x="0" y="0" font-size="9.6" fill="#1c1c1c" stroke="#1c1c1c" stroke-width="0.35" text-anchor="middle" textLength="63.4" lengthAdjust="spacingAndGlyphs" transform="translate(305.80,280.00) rotate(-90)">Event-free probability</text>
<path d="M340.40,233.60H340.90V234.90H342.30V236.30H344.20V238.00H344.60V241.00H344.90V243.90H345.70V245.90H347.10V247.50H350.50V248.50H351.50V250.20H352.90V252.60H355.30V253.30H358.20V254.50H359.20V255.50H361.60V257.00H362.00V260.80H363.50V261.80H364.60V264.60H365.90V266.50H368.30V267.70H368.80V270.40H370.20V271.80H371.20V273.80H372.60V276.30H384.20V277.80H386.10V279.00H386.80V281.30H395.70V284.30H398.60V287.20H403.00V293.50H406.30V296.50H410.60V299.40H417.40V302.90H439.60V306.60H450.80V310.40H457.60V314.80H493.90" fill="none" stroke="#36558f" stroke-width="1.35" stroke-linejoin="miter" stroke-linecap="butt"/>
<path d="M340.40,233.60H355.40V236.70H358.30V244.40H360.40V247.60H366.90V251.30H394.20V256.30H430.70V264.20H499.60" fill="none" stroke="#b82647" stroke-width="1.35" stroke-linejoin="miter" stroke-linecap="butt"/>
<text x="343.70" y="306.30" font-size="6.1" fill="#1c1c1c" stroke="#1c1c1c" stroke-width="0.18" textLength="50.50" lengthAdjust="spacingAndGlyphs">P&lt;0.001, HR=3.84</text>
<line x1="332.30" y1="440.00" x2="336.50" y2="440.00" stroke="#b82647" stroke-width="1.2"/>
<text x="340.00" y="442.10" font-size="6.1" fill="#1c1c1c" stroke="#1c1c1c" stroke-width="0.18" textLength="73.20" lengthAdjust="spacingAndGlyphs">MRD &lt; 10^(-6), mPFS=NR</text>
<line x1="332.30" y1="449.20" x2="336.50" y2="449.20" stroke="#36558f" stroke-width="1.2"/>
<text x="340.00" y="451.30" font-size="6.1" fill="#1c1c1c" stroke="#1c1c1c" stroke-width="0.18" textLength="92.00" lengthAdjust="spacingAndGlyphs">MRD ≥ 10^(-6), mPFS=17 months</text>
<text x="389.60" y="372.60" font-size="9.2" fill="#1c1c1c" stroke="#1c1c1c" stroke-width="0.18" textLength="60.50" lengthAdjust="spacingAndGlyphs">Number at risk</text>
<line x1="332.50" y1="394.20" x2="332.50" y2="406.30" stroke="#111" stroke-width="1.4"/>
<line x1="331.80" y1="405.60" x2="506.40" y2="405.60" stroke="#111" stroke-width="1.4"/>
<line x1="329.50" y1="396.30" x2="332.50" y2="396.30" stroke="#111" stroke-width="1.0"/>
<text x="325.75" y="398.40" font-size="6.2" fill="#c0304c" stroke="#c0304c" stroke-width="0.18" text-anchor="end">MRD &lt; 10^(-6)</text>
<text x="340.50" y="398.05" font-size="6.4" fill="#1c1c1c" stroke="#1c1c1c" stroke-width="0.18" text-anchor="middle">27</text>
<text x="372.12" y="398.05" font-size="6.4" fill="#1c1c1c" stroke="#1c1c1c" stroke-width="0.18" text-anchor="middle">21</text>
<text x="403.74" y="398.05" font-size="6.4" fill="#1c1c1c" stroke="#1c1c1c" stroke-width="0.18" text-anchor="middle">13</text>
<text x="435.36" y="398.05" font-size="6.4" fill="#1c1c1c" stroke="#1c1c1c" stroke-width="0.18" text-anchor="middle">7</text>
<text x="466.98" y="398.05" font-size="6.4" fill="#1c1c1c" stroke="#1c1c1c" stroke-width="0.18" text-anchor="middle">1</text>
<text x="498.60" y="398.05" font-size="6.4" fill="#1c1c1c" stroke="#1c1c1c" stroke-width="0.18" text-anchor="middle">1</text>
<line x1="329.50" y1="402.10" x2="332.50" y2="402.10" stroke="#111" stroke-width="1.0"/>
<text x="325.75" y="404.20" font-size="6.2" fill="#4a66a2" stroke="#4a66a2" stroke-width="0.18" text-anchor="end">MRD ≥ 10^(-6)</text>
<text x="340.50" y="403.85" font-size="6.4" fill="#1c1c1c" stroke="#1c1c1c" stroke-width="0.18" text-anchor="middle">48</text>
<text x="372.12" y="403.85" font-size="6.4" fill="#1c1c1c" stroke="#1c1c1c" stroke-width="0.18" text-anchor="middle">21</text>
<text x="403.74" y="403.85" font-size="6.4" fill="#1c1c1c" stroke="#1c1c1c" stroke-width="0.18" text-anchor="middle">11</text>
<text x="435.36" y="403.85" font-size="6.4" fill="#1c1c1c" stroke="#1c1c1c" stroke-width="0.18" text-anchor="middle">6</text>
<text x="466.98" y="403.85" font-size="6.4" fill="#1c1c1c" stroke="#1c1c1c" stroke-width="0.18" text-anchor="middle">2</text>
<text x="498.60" y="403.85" font-size="6.4" fill="#1c1c1c" stroke="#1c1c1c" stroke-width="0.18" text-anchor="middle">0</text>
<line x1="340.50" y1="405.60" x2="340.50" y2="409.10" stroke="#111" stroke-width="1.0"/>
<text x="340.50" y="417.90" font-size="6.0" fill="#1c1c1c" stroke="#1c1c1c" stroke-width="0.18" text-anchor="middle">0</text>
<line x1="372.12" y1="405.60" x2="372.12" y2="409.10" stroke="#111" stroke-width="1.0"/>
<text x="372.12" y="417.90" font-size="6.0" fill="#1c1c1c" stroke="#1c1c1c" stroke-width="0.18" text-anchor="middle">12</text>
<line x1="403.74" y1="405.60" x2="403.74" y2="409.10" stroke="#111" stroke-width="1.0"/>
<text x="403.74" y="417.90" font-size="6.0" fill="#1c1c1c" stroke="#1c1c1c" stroke-width="0.18" text-anchor="middle">24</text>
<line x1="435.36" y1="405.60" x2="435.36" y2="409.10" stroke="#111" stroke-width="1.0"/>
<text x="435.36" y="417.90" font-size="6.0" fill="#1c1c1c" stroke="#1c1c1c" stroke-width="0.18" text-anchor="middle">36</text>
<line x1="466.98" y1="405.60" x2="466.98" y2="409.10" stroke="#111" stroke-width="1.0"/>
<text x="466.98" y="417.90" font-size="6.0" fill="#1c1c1c" stroke="#1c1c1c" stroke-width="0.18" text-anchor="middle">48</text>
<line x1="498.60" y1="405.60" x2="498.60" y2="409.10" stroke="#111" stroke-width="1.0"/>
<text x="498.60" y="417.90" font-size="6.0" fill="#1c1c1c" stroke="#1c1c1c" stroke-width="0.18" text-anchor="middle">60</text>
<text x="419.60" y="430.90" font-size="9.3" fill="#1c1c1c" stroke="#1c1c1c" stroke-width="0.35" text-anchor="middle" textLength="21.60" lengthAdjust="spacingAndGlyphs">Months</text>
<text x="7.90" y="492.00" font-size="13.5" fill="#000" font-weight="bold">E</text>
<line x1="78.50" y1="492.30" x2="78.50" y2="593.00" stroke="#111" stroke-width="1.4"/>
<line x1="77.80" y1="592.30" x2="252.00" y2="592.30" stroke="#111" stroke-width="1.4"/>
<line x1="75.30" y1="587.90" x2="78.50" y2="587.90" stroke="#111" stroke-width="1.0"/>
<text x="71.60" y="590.80" font-size="7.3" fill="#1c1c1c" stroke="#1c1c1c" stroke-width="0.18" text-anchor="end">0.00</text>
<line x1="75.30" y1="564.88" x2="78.50" y2="564.88" stroke="#111" stroke-width="1.0"/>
<text x="71.60" y="567.77" font-size="7.3" fill="#1c1c1c" stroke="#1c1c1c" stroke-width="0.18" text-anchor="end">0.25</text>
<line x1="75.30" y1="541.85" x2="78.50" y2="541.85" stroke="#111" stroke-width="1.0"/>
<text x="71.60" y="544.75" font-size="7.3" fill="#1c1c1c" stroke="#1c1c1c" stroke-width="0.18" text-anchor="end">0.50</text>
<line x1="75.30" y1="518.83" x2="78.50" y2="518.83" stroke="#111" stroke-width="1.0"/>
<text x="71.60" y="521.73" font-size="7.3" fill="#1c1c1c" stroke="#1c1c1c" stroke-width="0.18" text-anchor="end">0.75</text>
<line x1="75.30" y1="495.80" x2="78.50" y2="495.80" stroke="#111" stroke-width="1.0"/>
<text x="71.60" y="498.70" font-size="7.3" fill="#1c1c1c" stroke="#1c1c1c" stroke-width="0.18" text-anchor="end">1.00</text>
<line x1="86.40" y1="592.30" x2="86.40" y2="596.00" stroke="#111" stroke-width="1.0"/>
<text x="86.40" y="606.20" font-size="7.3" fill="#1c1c1c" stroke="#1c1c1c" stroke-width="0.18" text-anchor="middle">0</text>
<line x1="117.98" y1="592.30" x2="117.98" y2="596.00" stroke="#111" stroke-width="1.0"/>
<text x="117.98" y="606.20" font-size="7.3" fill="#1c1c1c" stroke="#1c1c1c" stroke-width="0.18" text-anchor="middle">12</text>
<line x1="149.56" y1="592.30" x2="149.56" y2="596.00" stroke="#111" stroke-width="1.0"/>
<text x="149.56" y="606.20" font-size="7.3" fill="#1c1c1c" stroke="#1c1c1c" stroke-width="0.18" text-anchor="middle">24</text>
<line x1="181.14" y1="592.30" x2="181.14" y2="596.00" stroke="#111" stroke-width="1.0"/>
<text x="181.14" y="606.20" font-size="7.3" fill="#1c1c1c" stroke="#1c1c1c" stroke-width="0.18" text-anchor="middle">36</text>
<line x1="212.72" y1="592.30" x2="212.72" y2="596.00" stroke="#111" stroke-width="1.0"/>
<text x="212.72" y="606.20" font-size="7.3" fill="#1c1c1c" stroke="#1c1c1c" stroke-width="0.18" text-anchor="middle">48</text>
<line x1="244.30" y1="592.30" x2="244.30" y2="596.00" stroke="#111" stroke-width="1.0"/>
<text x="244.30" y="606.20" font-size="7.3" fill="#1c1c1c" stroke="#1c1c1c" stroke-width="0.18" text-anchor="middle">60</text>
<text x="166.00" y="619.40" font-size="9.3" fill="#1c1c1c" stroke="#1c1c1c" stroke-width="0.35" text-anchor="middle" textLength="21.60" lengthAdjust="spacingAndGlyphs">Months</text>
<text x="0" y="0" font-size="9.6" fill="#1c1c1c" stroke="#1c1c1c" stroke-width="0.35" text-anchor="middle" textLength="63.4" lengthAdjust="spacingAndGlyphs" transform="translate(51.60,541.85) rotate(-90)">Event-free probability</text>
<path d="M86.30,496.10H86.50V498.00H87.80V499.30H88.20V500.40H90.00V502.20H90.90V503.80H91.70V504.90H96.00V507.20H97.10V509.20H98.30V510.50H98.70V512.00H103.80V513.40H105.20V514.30H106.70V515.20H107.60V518.80H109.80V519.80H110.50V521.80H111.30V523.40H112.50V524.60H113.60V526.00H114.00V529.20H114.80V530.70H115.90V532.20H117.30V533.60H118.50V536.70H129.30V539.00H130.50V541.00H132.00V542.80H140.60V546.00H142.30V548.00H144.00V550.60H148.40V553.00H149.30V555.50H150.50V558.00H152.00V561.00H154.00V563.50H156.20V565.30H185.60V571.00H203.30V576.50H226.60" fill="none" stroke="#36558f" stroke-width="1.35" stroke-linejoin="miter" stroke-linecap="butt"/>
<path d="M86.30,496.10H89.80V502.50H91.40V503.80H100.30V506.60H104.10V512.20H105.50V513.00H107.00V515.00H108.20V517.60H112.60V520.70H140.20V524.40H162.60V529.10H176.40V534.30H196.30V543.30H245.70" fill="none" stroke="#b82647" stroke-width="1.35" stroke-linejoin="miter" stroke-linecap="butt"/>
<text x="86.60" y="569.50" font-size="6.1" fill="#1c1c1c" stroke="#1c1c1c" stroke-width="0.18" textLength="47.90" lengthAdjust="spacingAndGlyphs">P=0.01, HR=2.45</text>
<line x1="78.60" y1="701.70" x2="82.80" y2="701.70" stroke="#b82647" stroke-width="1.2"/>
<text x="85.75" y="703.80" font-size="6.1" fill="#1c1c1c" stroke="#1c1c1c" stroke-width="0.18" textLength="91.60" lengthAdjust="spacingAndGlyphs">MRD &lt; 10^(-5), mPFS=42 months</text>
<line x1="78.60" y1="710.20" x2="82.80" y2="710.20" stroke="#36558f" stroke-width="1.2"/>
<text x="85.75" y="712.30" font-size="6.1" fill="#1c1c1c" stroke="#1c1c1c" stroke-width="0.18" textLength="91.60" lengthAdjust="spacingAndGlyphs">MRD ≥ 10^(-5), mPFS=17 months</text>
<text x="135.60" y="633.70" font-size="9.2" fill="#1c1c1c" stroke="#1c1c1c" stroke-width="0.18" textLength="61.00" lengthAdjust="spacingAndGlyphs">Number at risk</text>
<line x1="78.00" y1="655.50" x2="78.00" y2="667.30" stroke="#111" stroke-width="1.4"/>
<line x1="77.30" y1="666.60" x2="252.00" y2="666.60" stroke="#111" stroke-width="1.4"/>
<line x1="75.00" y1="657.70" x2="78.00" y2="657.70" stroke="#111" stroke-width="1.0"/>
<text x="71.25" y="659.80" font-size="6.2" fill="#c0304c" stroke="#c0304c" stroke-width="0.18" text-anchor="end">MRD &lt; 10^(-5)</text>
<text x="86.25" y="659.45" font-size="6.4" fill="#1c1c1c" stroke="#1c1c1c" stroke-width="0.18" text-anchor="middle">35</text>
<text x="117.78" y="659.45" font-size="6.4" fill="#1c1c1c" stroke="#1c1c1c" stroke-width="0.18" text-anchor="middle">24</text>
<text x="149.31" y="659.45" font-size="6.4" fill="#1c1c1c" stroke="#1c1c1c" stroke-width="0.18" text-anchor="middle">16</text>
<text x="180.84" y="659.45" font-size="6.4" fill="#1c1c1c" stroke="#1c1c1c" stroke-width="0.18" text-anchor="middle">9</text>
<text x="212.37" y="659.45" font-size="6.4" fill="#1c1c1c" stroke="#1c1c1c" stroke-width="0.18" text-anchor="middle">2</text>
<text x="243.90" y="659.45" font-size="6.4" fill="#1c1c1c" stroke="#1c1c1c" stroke-width="0.18" text-anchor="middle">1</text>
<line x1="75.00" y1="663.30" x2="78.00" y2="663.30" stroke="#111" stroke-width="1.0"/>
<text x="71.25" y="665.40" font-size="6.2" fill="#4a66a2" stroke="#4a66a2" stroke-width="0.18" text-anchor="end">MRD ≥ 10^(-5)</text>
<text x="86.25" y="665.05" font-size="6.4" fill="#1c1c1c" stroke="#1c1c1c" stroke-width="0.18" text-anchor="middle">40</text>
<text x="117.78" y="665.05" font-size="6.4" fill="#1c1c1c" stroke="#1c1c1c" stroke-width="0.18" text-anchor="middle">18</text>
<text x="149.31" y="665.05" font-size="6.4" fill="#1c1c1c" stroke="#1c1c1c" stroke-width="0.18" text-anchor="middle">8</text>
<text x="180.84" y="665.05" font-size="6.4" fill="#1c1c1c" stroke="#1c1c1c" stroke-width="0.18" text-anchor="middle">4</text>
<text x="212.37" y="665.05" font-size="6.4" fill="#1c1c1c" stroke="#1c1c1c" stroke-width="0.18" text-anchor="middle">1</text>
<text x="243.90" y="665.05" font-size="6.4" fill="#1c1c1c" stroke="#1c1c1c" stroke-width="0.18" text-anchor="middle">0</text>
<line x1="86.25" y1="666.60" x2="86.25" y2="670.10" stroke="#111" stroke-width="1.0"/>
<text x="86.25" y="679.10" font-size="6.0" fill="#1c1c1c" stroke="#1c1c1c" stroke-width="0.18" text-anchor="middle">0</text>
<line x1="117.78" y1="666.60" x2="117.78" y2="670.10" stroke="#111" stroke-width="1.0"/>
<text x="117.78" y="679.10" font-size="6.0" fill="#1c1c1c" stroke="#1c1c1c" stroke-width="0.18" text-anchor="middle">12</text>
<line x1="149.31" y1="666.60" x2="149.31" y2="670.10" stroke="#111" stroke-width="1.0"/>
<text x="149.31" y="679.10" font-size="6.0" fill="#1c1c1c" stroke="#1c1c1c" stroke-width="0.18" text-anchor="middle">24</text>
<line x1="180.84" y1="666.60" x2="180.84" y2="670.10" stroke="#111" stroke-width="1.0"/>
<text x="180.84" y="679.10" font-size="6.0" fill="#1c1c1c" stroke="#1c1c1c" stroke-width="0.18" text-anchor="middle">36</text>
<line x1="212.37" y1="666.60" x2="212.37" y2="670.10" stroke="#111" stroke-width="1.0"/>
<text x="212.37" y="679.10" font-size="6.0" fill="#1c1c1c" stroke="#1c1c1c" stroke-width="0.18" text-anchor="middle">48</text>
<line x1="243.90" y1="666.60" x2="243.90" y2="670.10" stroke="#111" stroke-width="1.0"/>
<text x="243.90" y="679.10" font-size="6.0" fill="#1c1c1c" stroke="#1c1c1c" stroke-width="0.18" text-anchor="middle">60</text>
<text x="166.00" y="692.10" font-size="9.3" fill="#1c1c1c" stroke="#1c1c1c" stroke-width="0.35" text-anchor="middle" textLength="21.60" lengthAdjust="spacingAndGlyphs">Months</text>
<text x="262.00" y="491.40" font-size="13.5" fill="#000" font-weight="bold">F</text>
<line x1="332.70" y1="500.00" x2="332.70" y2="593.00" stroke="#111" stroke-width="1.4"/>
<line x1="332.00" y1="592.30" x2="486.30" y2="592.30" stroke="#111" stroke-width="1.4"/>
<line x1="329.50" y1="588.10" x2="332.70" y2="588.10" stroke="#111" stroke-width="1.0"/>
<text x="325.80" y="591.00" font-size="7.3" fill="#1c1c1c" stroke="#1c1c1c" stroke-width="0.18" text-anchor="end">0.00</text>
<line x1="329.50" y1="567.02" x2="332.70" y2="567.02" stroke="#111" stroke-width="1.0"/>
<text x="325.80" y="569.92" font-size="7.3" fill="#1c1c1c" stroke="#1c1c1c" stroke-width="0.18" text-anchor="end">0.25</text>
<line x1="329.50" y1="545.95" x2="332.70" y2="545.95" stroke="#111" stroke-width="1.0"/>
<text x="325.80" y="548.85" font-size="7.3" fill="#1c1c1c" stroke="#1c1c1c" stroke-width="0.18" text-anchor="end">0.50</text>
<line x1="329.50" y1="524.88" x2="332.70" y2="524.88" stroke="#111" stroke-width="1.0"/>
<text x="325.80" y="527.77" font-size="7.3" fill="#1c1c1c" stroke="#1c1c1c" stroke-width="0.18" text-anchor="end">0.75</text>
<line x1="329.50" y1="503.80" x2="332.70" y2="503.80" stroke="#111" stroke-width="1.0"/>
<text x="325.80" y="506.70" font-size="7.3" fill="#1c1c1c" stroke="#1c1c1c" stroke-width="0.18" text-anchor="end">1.00</text>
<line x1="339.80" y1="592.30" x2="339.80" y2="596.00" stroke="#111" stroke-width="1.0"/>
<text x="339.80" y="606.20" font-size="7.3" fill="#1c1c1c" stroke="#1c1c1c" stroke-width="0.18" text-anchor="middle">0</text>
<line x1="367.76" y1="592.30" x2="367.76" y2="596.00" stroke="#111" stroke-width="1.0"/>
<text x="367.76" y="606.20" font-size="7.3" fill="#1c1c1c" stroke="#1c1c1c" stroke-width="0.18" text-anchor="middle">12</text>
<line x1="395.72" y1="592.30" x2="395.72" y2="596.00" stroke="#111" stroke-width="1.0"/>
<text x="395.72" y="606.20" font-size="7.3" fill="#1c1c1c" stroke="#1c1c1c" stroke-width="0.18" text-anchor="middle">24</text>
<line x1="423.68" y1="592.30" x2="423.68" y2="596.00" stroke="#111" stroke-width="1.0"/>
<text x="423.68" y="606.20" font-size="7.3" fill="#1c1c1c" stroke="#1c1c1c" stroke-width="0.18" text-anchor="middle">36</text>
<line x1="451.64" y1="592.30" x2="451.64" y2="596.00" stroke="#111" stroke-width="1.0"/>
<text x="451.64" y="606.20" font-size="7.3" fill="#1c1c1c" stroke="#1c1c1c" stroke-width="0.18" text-anchor="middle">48</text>
<line x1="479.60" y1="592.30" x2="479.60" y2="596.00" stroke="#111" stroke-width="1.0"/>
<text x="479.60" y="606.20" font-size="7.3" fill="#1c1c1c" stroke="#1c1c1c" stroke-width="0.18" text-anchor="middle">60</text>
<text x="409.75" y="619.10" font-size="9.3" fill="#1c1c1c" stroke="#1c1c1c" stroke-width="0.35" text-anchor="middle" textLength="21.60" lengthAdjust="spacingAndGlyphs">Months</text>
<text x="0" y="0" font-size="9.6" fill="#1c1c1c" stroke="#1c1c1c" stroke-width="0.35" text-anchor="middle" textLength="63.4" lengthAdjust="spacingAndGlyphs" transform="translate(305.80,545.95) rotate(-90)">Event-free probability</text>
<path d="M339.60,504.00H339.60V507.20H341.50V510.10H344.40V513.90H348.50V520.70H354.90V524.00H358.00V527.90H364.50V531.70H368.20V536.30H378.20V541.00H380.40V546.00H391.50V551.20H395.00V561.50H397.70V566.90H401.50V572.50H443.20V580.10H464.30" fill="none" stroke="#64b03c" stroke-width="1.35" stroke-linejoin="miter" stroke-linecap="butt"/>
<path d="M339.80,504.00H343.20V509.60H350.40V514.90H355.70V515.50H358.10V515.90H358.60V518.30H359.10V520.70H361.00V521.60H361.50V527.90H362.00V532.70H363.90V535.10H364.40V542.30H365.80V543.30H366.30V550.20H388.50V559.90H427.50V573.70H449.30" fill="none" stroke="#36558f" stroke-width="1.35" stroke-linejoin="miter" stroke-linecap="butt"/>
<path d="M339.80,504.00H352.30V506.70H355.80V513.50H357.10V515.90H358.60V516.80H362.30V520.20H387.40V524.60H419.80V532.00H480.80" fill="none" stroke="#b82647" stroke-width="1.35" stroke-linejoin="miter" stroke-linecap="butt"/>
<path d="M339.80,504.00H342.90V535.40H359.10V548.90H407.70V561.90H437.50V575.20H475.60" fill="none" stroke="#70428a" stroke-width="1.35" stroke-linejoin="miter" stroke-linecap="butt"/>
<text x="343.70" y="569.40" font-size="6.1" fill="#1c1c1c" stroke="#1c1c1c" stroke-width="0.18" textLength="22.50" lengthAdjust="spacingAndGlyphs">P&lt;0.001</text>
<line x1="321.20" y1="701.50" x2="325.40" y2="701.50" stroke="#b82647" stroke-width="1.2"/>
<text x="328.75" y="703.60" font-size="6.1" fill="#1c1c1c" stroke="#1c1c1c" stroke-width="0.18" textLength="77.00" lengthAdjust="spacingAndGlyphs">MRD &lt; 10^(-6) , mPFS=NR</text>
<line x1="321.20" y1="710.10" x2="325.40" y2="710.10" stroke="#64b03c" stroke-width="1.2"/>
<text x="328.75" y="712.20" font-size="6.1" fill="#1c1c1c" stroke="#1c1c1c" stroke-width="0.18" textLength="168.60" lengthAdjust="spacingAndGlyphs">MRD 10^(-4) – 10^(-3), mPFS=22 months, P&lt;0.001, HR=3.91</text>
<line x1="321.20" y1="718.70" x2="325.40" y2="718.70" stroke="#36558f" stroke-width="1.2"/>
<text x="328.75" y="720.80" font-size="6.1" fill="#1c1c1c" stroke="#1c1c1c" stroke-width="0.18" textLength="165.40" lengthAdjust="spacingAndGlyphs">MRD 10^(-5) – 10^(-4), mPFS=11 months, P=0.01, HR=3.51</text>
<line x1="321.20" y1="727.50" x2="325.40" y2="727.50" stroke="#70428a" stroke-width="1.2"/>
<text x="328.75" y="729.60" font-size="6.1" fill="#1c1c1c" stroke="#1c1c1c" stroke-width="0.18" textLength="162.50" lengthAdjust="spacingAndGlyphs">MRD 10^(-6) – 10^(-5), mPFS=8 months, P=0.01, HR=4.18</text>
<text x="379.80" y="633.60" font-size="9.2" fill="#1c1c1c" stroke="#1c1c1c" stroke-width="0.18" textLength="60.00" lengthAdjust="spacingAndGlyphs">Number at risk</text>
<line x1="332.50" y1="639.50" x2="332.50" y2="667.20" stroke="#111" stroke-width="1.4"/>
<line x1="331.80" y1="666.50" x2="485.70" y2="666.50" stroke="#111" stroke-width="1.4"/>
<line x1="329.50" y1="642.60" x2="332.50" y2="642.60" stroke="#111" stroke-width="1.0"/>
<text x="325.75" y="644.70" font-size="6.2" fill="#c0304c" stroke="#c0304c" stroke-width="0.18" text-anchor="end">MRD &lt; 10^(-6)</text>
<text x="339.50" y="644.35" font-size="6.4" fill="#1c1c1c" stroke="#1c1c1c" stroke-width="0.18" text-anchor="middle">27</text>
<text x="367.50" y="644.35" font-size="6.4" fill="#1c1c1c" stroke="#1c1c1c" stroke-width="0.18" text-anchor="middle">21</text>
<text x="395.50" y="644.35" font-size="6.4" fill="#1c1c1c" stroke="#1c1c1c" stroke-width="0.18" text-anchor="middle">13</text>
<text x="423.50" y="644.35" font-size="6.4" fill="#1c1c1c" stroke="#1c1c1c" stroke-width="0.18" text-anchor="middle">7</text>
<text x="451.50" y="644.35" font-size="6.4" fill="#1c1c1c" stroke="#1c1c1c" stroke-width="0.18" text-anchor="middle">1</text>
<text x="479.50" y="644.35" font-size="6.4" fill="#1c1c1c" stroke="#1c1c1c" stroke-width="0.18" text-anchor="middle">1</text>
<line x1="329.50" y1="649.30" x2="332.50" y2="649.30" stroke="#111" stroke-width="1.0"/>
<text x="325.75" y="651.40" font-size="6.2" fill="#5fa83c" stroke="#5fa83c" stroke-width="0.18" text-anchor="end" textLength="63.20" lengthAdjust="spacingAndGlyphs">MRD 10^(-4) – 10^(-3)</text>
<text x="339.50" y="651.05" font-size="6.4" fill="#1c1c1c" stroke="#1c1c1c" stroke-width="0.18" text-anchor="middle">25</text>
<text x="367.50" y="651.05" font-size="6.4" fill="#1c1c1c" stroke="#1c1c1c" stroke-width="0.18" text-anchor="middle">13</text>
<text x="395.50" y="651.05" font-size="6.4" fill="#1c1c1c" stroke="#1c1c1c" stroke-width="0.18" text-anchor="middle">5</text>
<text x="423.50" y="651.05" font-size="6.4" fill="#1c1c1c" stroke="#1c1c1c" stroke-width="0.18" text-anchor="middle">2</text>
<text x="451.50" y="651.05" font-size="6.4" fill="#1c1c1c" stroke="#1c1c1c" stroke-width="0.18" text-anchor="middle">1</text>
<text x="479.50" y="651.05" font-size="6.4" fill="#1c1c1c" stroke="#1c1c1c" stroke-width="0.18" text-anchor="middle">0</text>
<line x1="329.50" y1="655.80" x2="332.50" y2="655.80" stroke="#111" stroke-width="1.0"/>
<text x="325.75" y="657.90" font-size="6.2" fill="#4a66a2" stroke="#4a66a2" stroke-width="0.18" text-anchor="end" textLength="63.20" lengthAdjust="spacingAndGlyphs">MRD 10^(-5) – 10^(-4)</text>
<text x="339.50" y="657.55" font-size="6.4" fill="#1c1c1c" stroke="#1c1c1c" stroke-width="0.18" text-anchor="middle">15</text>
<text x="367.50" y="657.55" font-size="6.4" fill="#1c1c1c" stroke="#1c1c1c" stroke-width="0.18" text-anchor="middle">5</text>
<text x="395.50" y="657.55" font-size="6.4" fill="#1c1c1c" stroke="#1c1c1c" stroke-width="0.18" text-anchor="middle">3</text>
<text x="423.50" y="657.55" font-size="6.4" fill="#1c1c1c" stroke="#1c1c1c" stroke-width="0.18" text-anchor="middle">2</text>
<text x="451.50" y="657.55" font-size="6.4" fill="#1c1c1c" stroke="#1c1c1c" stroke-width="0.18" text-anchor="middle">0</text>
<text x="479.50" y="657.55" font-size="6.4" fill="#1c1c1c" stroke="#1c1c1c" stroke-width="0.18" text-anchor="middle">0</text>
<line x1="329.50" y1="662.40" x2="332.50" y2="662.40" stroke="#111" stroke-width="1.0"/>
<text x="325.75" y="664.50" font-size="6.2" fill="#74488c" stroke="#74488c" stroke-width="0.18" text-anchor="end" textLength="63.20" lengthAdjust="spacingAndGlyphs">MRD 10^(-6) – 10^(-5)</text>
<text x="339.50" y="664.15" font-size="6.4" fill="#1c1c1c" stroke="#1c1c1c" stroke-width="0.18" text-anchor="middle">8</text>
<text x="367.50" y="664.15" font-size="6.4" fill="#1c1c1c" stroke="#1c1c1c" stroke-width="0.18" text-anchor="middle">3</text>
<text x="395.50" y="664.15" font-size="6.4" fill="#1c1c1c" stroke="#1c1c1c" stroke-width="0.18" text-anchor="middle">3</text>
<text x="423.50" y="664.15" font-size="6.4" fill="#1c1c1c" stroke="#1c1c1c" stroke-width="0.18" text-anchor="middle">2</text>
<text x="451.50" y="664.15" font-size="6.4" fill="#1c1c1c" stroke="#1c1c1c" stroke-width="0.18" text-anchor="middle">1</text>
<text x="479.50" y="664.15" font-size="6.4" fill="#1c1c1c" stroke="#1c1c1c" stroke-width="0.18" text-anchor="middle">0</text>
<line x1="339.50" y1="666.50" x2="339.50" y2="670.00" stroke="#111" stroke-width="1.0"/>
<text x="339.50" y="678.60" font-size="6.0" fill="#1c1c1c" stroke="#1c1c1c" stroke-width="0.18" text-anchor="middle">0</text>
<line x1="367.50" y1="666.50" x2="367.50" y2="670.00" stroke="#111" stroke-width="1.0"/>
<text x="367.50" y="678.60" font-size="6.0" fill="#1c1c1c" stroke="#1c1c1c" stroke-width="0.18" text-anchor="middle">12</text>
<line x1="395.50" y1="666.50" x2="395.50" y2="670.00" stroke="#111" stroke-width="1.0"/>
<text x="395.50" y="678.60" font-size="6.0" fill="#1c1c1c" stroke="#1c1c1c" stroke-width="0.18" text-anchor="middle">24</text>
<line x1="423.50" y1="666.50" x2="423.50" y2="670.00" stroke="#111" stroke-width="1.0"/>
<text x="423.50" y="678.60" font-size="6.0" fill="#1c1c1c" stroke="#1c1c1c" stroke-width="0.18" text-anchor="middle">36</text>
<line x1="451.50" y1="666.50" x2="451.50" y2="670.00" stroke="#111" stroke-width="1.0"/>
<text x="451.50" y="678.60" font-size="6.0" fill="#1c1c1c" stroke="#1c1c1c" stroke-width="0.18" text-anchor="middle">48</text>
<line x1="479.50" y1="666.50" x2="479.50" y2="670.00" stroke="#111" stroke-width="1.0"/>
<text x="479.50" y="678.60" font-size="6.0" fill="#1c1c1c" stroke="#1c1c1c" stroke-width="0.18" text-anchor="middle">60</text>
<text x="409.75" y="691.90" font-size="9.3" fill="#1c1c1c" stroke="#1c1c1c" stroke-width="0.35" text-anchor="middle" textLength="21.60" lengthAdjust="spacingAndGlyphs">Months</text>
<line x1="518.5" y1="0" x2="518.5" y2="739" stroke="#d0d0d0" stroke-width="1"/>
<line x1="0" y1="737.5" x2="520" y2="737.5" stroke="#d0d0d0" stroke-width="1"/>
<rect x="0.5" y="0.5" width="519" height="738" fill="none" stroke="#000" stroke-width="1"/>
</svg>
</body></html>
